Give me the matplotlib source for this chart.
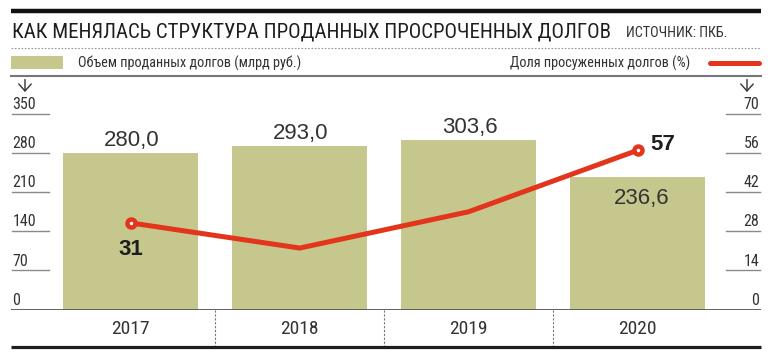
import numpy as np
import matplotlib.pyplot as plt
from matplotlib import font_manager
from matplotlib.transforms import blended_transform_factory

years = ['2017', '2018', '2019', '2020']
volume = [280.0, 293.0, 303.6, 236.6]   # объем проданных долгов, млрд руб.
share = [31, 22, 35, 57]                # доля просуженных долгов, %
left_ticks = [0, 70, 140, 210, 280, 350]
right_ticks = [0, 14, 28, 42, 56, 70]

BAR = '#c6c78c'
RED = '#e3341c'
INK = '#1e1e1e'
TXT = '#333333'
GRAY = '#8a8a8a'

names = {f.name for f in font_manager.fontManager.ttflist}
narrow = next((n for n in ['Liberation Sans Narrow', 'Roboto Condensed', 'Open Sans Condensed']
               if n in names), 'DejaVu Sans')
plain = 'Liberation Sans' if 'Liberation Sans' in names else 'DejaVu Sans'

W, H = 773, 356
fig = plt.figure(figsize=(W / 100, H / 100), dpi=100)


def fx(x):
    return x / W


def fy(y):
    return 1 - y / H


# main chart area: 0 at y=309.5 px, 350 at y=114 px
ax = fig.add_axes([fx(11), fy(309.5), fx(761) - fx(11), fy(114) - fy(309.5)])
ax2 = ax.twinx()
x = np.arange(len(years))

ax.bar(x, volume, width=0.8, color=BAR, zorder=1)
ax.set_xlim(-0.709, 3.731)
ax.set_ylim(0, 350)
ax2.set_ylim(0, 70)
ax.axis('off')
ax2.axis('off')

# bar value labels
scale = 350 / 70
for i, v in enumerate(volume):
    lbl = f'{v:.1f}'.replace('.', ',')
    if share[i] * scale > v:
        ax.annotate(lbl, (x[i], v), xytext=(3, -19.5), textcoords='offset points',
                    ha='center', va='baseline', fontsize=16, color=TXT, family=plain)
    else:
        ax.annotate(lbl, (x[i], v), xytext=(1, 5), textcoords='offset points',
                    ha='center', va='baseline', fontsize=16, color=TXT, family=plain)

# share line
ax2.plot(x, share, color=RED, lw=3.6, zorder=3, solid_joinstyle='round')
ax2.plot(x[[0, -1]], [share[0], share[-1]], 'o', ms=5.8, mfc='white', mec=RED, mew=3.2, zorder=4)
ax2.annotate(str(share[0]), (x[0], share[0]), xytext=(0, -23), textcoords='offset points',
             ha='center', va='baseline', fontsize=16, fontweight='bold', color=INK, family=plain)
ax2.annotate(str(share[-1]), (x[-1], share[-1]), xytext=(9.5, 0.5), textcoords='offset points',
             ha='left', va='baseline', fontsize=16, fontweight='bold', color=INK, family=plain)

# tick marks with labels above
ty = ax.get_yaxis_transform()
for t in left_ticks:
    if t > 0:
        ax.plot([0.001, 0.05], [t, t], color=GRAY, lw=1, transform=ty, clip_on=False)
    ax.annotate(str(t), (0.002, t), xycoords=ty, xytext=(0, 3.5), textcoords='offset points',
                ha='left', va='baseline', fontsize=11.5, color=TXT, family=narrow)
ty2 = ax2.get_yaxis_transform()
for t in right_ticks:
    if t > 0:
        ax2.plot([0.953, 0.999], [t, t], color=GRAY, lw=1, transform=ty2, clip_on=False)
    ax2.annotate(str(t), (0.998, t), xycoords=ty2, xytext=(0, 3.5), textcoords='offset points',
                 ha='right', va='baseline', fontsize=11.5, color=TXT, family=narrow)

# baseline, dividers and year labels
ax.axhline(0, color='#555555', lw=1.3, zorder=2)
bt = blended_transform_factory(ax.transData, fig.transFigure)
for d in x[:-1] + 0.5:
    ax.plot([d, d], [fy(310), fy(346)], color='#777777', lw=0.8, ls=(0, (2, 1.5)),
            transform=bt, clip_on=False)
for i, yr in enumerate(years):
    ax.text(x[i], fy(329), yr, transform=bt, ha='center', va='center',
            fontsize=14, color=TXT, family=narrow)

# header decorations in pixel coordinates
ov = fig.add_axes([0, 0, 1, 1])
ov.set_xlim(0, W)
ov.set_ylim(H, 0)
ov.axis('off')
ov.plot([11, 761], [10.5, 10.5], color='#111111', lw=3.2, solid_capstyle='butt')
ov.text(12.5, 37.3, 'КАК МЕНЯЛАСЬ СТРУКТУРА ПРОДАННЫХ ПРОСРОЧЕННЫХ ДОЛГОВ',
        ha='left', va='baseline', fontsize=15, color=INK, family=narrow)
ov.text(626, 37.3, 'ИСТОЧНИК: ПКБ.', ha='left', va='baseline', fontsize=10.3,
        color=TXT, family=narrow)
ov.plot([11, 761], [48.3, 48.3], color='#999999', lw=0.8, ls=(0, (1.5, 1.5)))
ov.fill_between([11, 63], 56, 69, color=BAR, lw=0)
ov.text(77.7, 67.5, 'Объем проданных долгов (млрд руб.)', ha='left', va='baseline',
        fontsize=10.3, color=TXT, family=narrow)
ov.text(690, 67.5, 'Доля просуженных долгов (%)', ha='right', va='baseline',
        fontsize=10.3, color=TXT, family=narrow)
ov.plot([710, 759], [62.5, 62.5], color=RED, lw=3.6, solid_capstyle='round')
ov.plot([11, 761], [76.3, 76.3], color='#777777', lw=1.5)
for ax_x in (25, 747):
    ov.annotate('', xy=(ax_x, 92), xytext=(ax_x, 79.5),
                arrowprops=dict(arrowstyle='->, head_length=0.28, head_width=0.25',
                                color=TXT, lw=1, mutation_scale=18, shrinkA=0, shrinkB=0))
ov.plot([11, 761], [347, 347], color=INK, lw=2.3, solid_capstyle='butt')

fig.savefig('out.png', dpi=100)
